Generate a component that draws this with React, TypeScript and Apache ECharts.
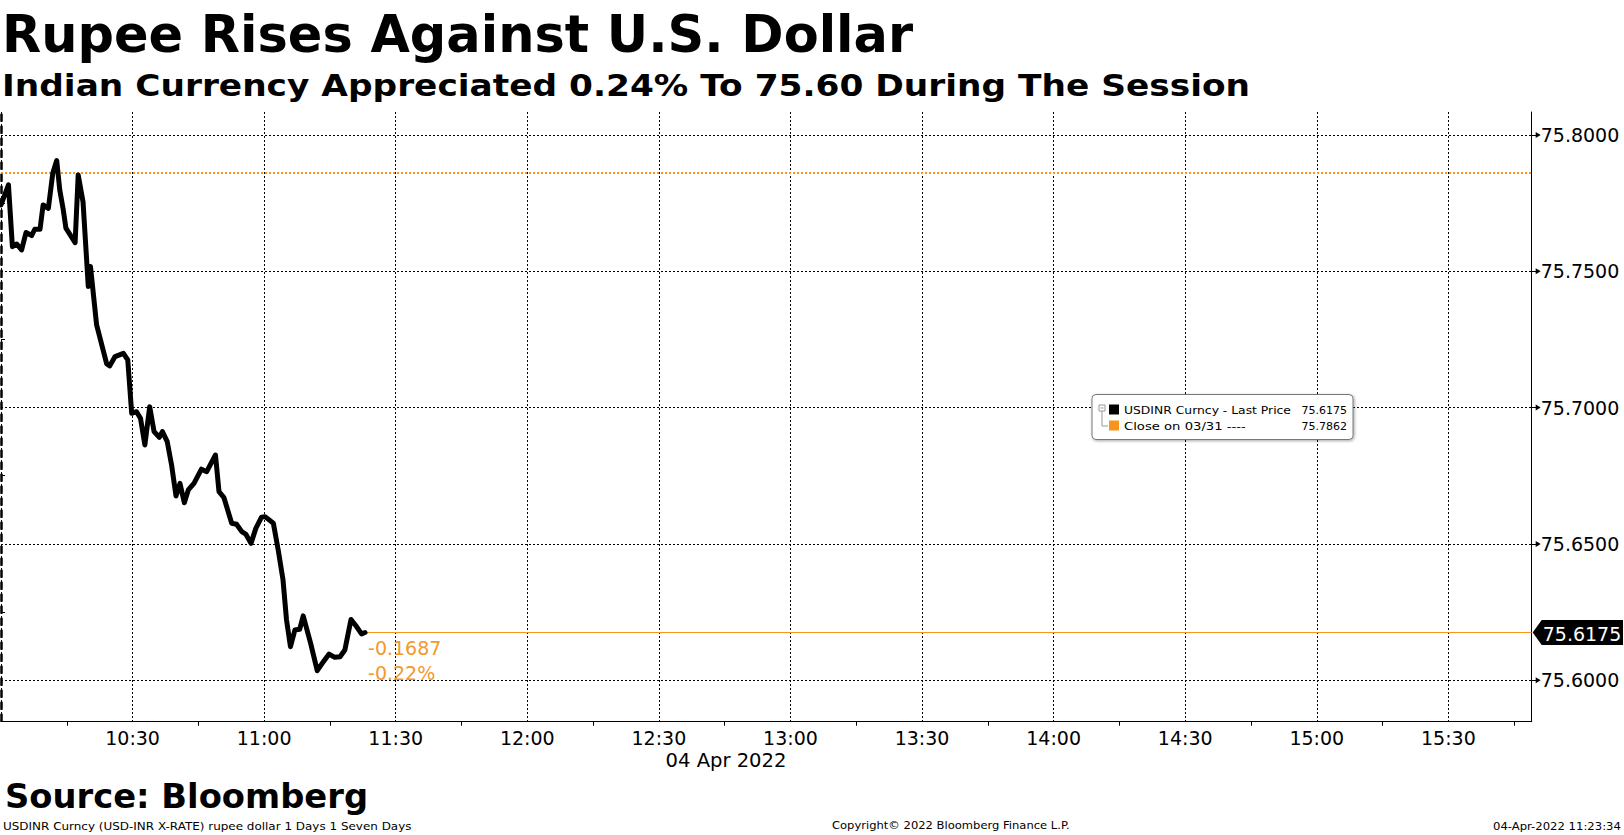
import React, { useEffect, useRef } from "react";
import * as echarts from "echarts";

// ---- texts ----
const TITLE = "Rupee Rises Against U.S. Dollar";
const SUBTITLE = "Indian Currency Appreciated 0.24% To 75.60 During The Session";
const SOURCE = "Source: Bloomberg";
const FOOT_LEFT = "USDINR Curncy (USD-INR X-RATE) rupee dollar 1 Days 1 Seven Days";
const FOOT_MID = "Copyright\u00a9 2022 Bloomberg Finance L.P.";
const FOOT_RIGHT = "04-Apr-2022 11:23:34";
const DATE_LABEL = "04 Apr 2022";
const LEGEND_LAST = "USDINR Curncy - Last Price";
const LEGEND_CLOSE = "Close on 03/31 ----";

// ---- axes ----
const SESSION_START = 600; // 10:00, minutes after midnight
const X_MAX = 349; // minutes after 10:00 at the right edge of the plot
const Y_MIN = 75.5848;
const Y_MAX = 75.8084;
const Y_TICKS = [75.6, 75.65, 75.7, 75.75, 75.8];
const Y_MINOR_TICKS = [75.625, 75.675, 75.725, 75.775];

// ---- data: minutes after 10:00 and USDINR price ----
const MINUTES = [
  0, 1.7, 2.6, 3.6, 4.7, 5.7, 7.0, 7.7, 8.9, 9.6,
  10.8, 11.8, 12.7, 13.4, 14.2, 14.8, 16.9, 17.6, 18.7, 19.9,
  20.4, 21.8, 24.1, 24.8, 26.0, 27.9, 28.9, 29.8, 30.9, 31.8,
  32.8, 33.9, 34.9, 36.1, 36.8, 37.9, 38.9, 39.9, 40.8, 41.8,
  42.7, 44.0, 45.7, 46.9, 48.9, 49.7, 50.8, 52.6, 53.7, 54.9,
  55.8, 57.0, 58.1, 59.4, 60.2, 62.1, 63.2, 64.3, 65.1, 66.0,
  67.0, 68.1, 68.9, 70.6, 72.1, 73.5, 74.8, 76.1, 77.3, 78.4,
  79.8, 81.1, 82.2, 83.0,
];
const PRICES = [
  75.7743, 75.7817, 75.759, 75.76, 75.7578, 75.7642, 75.7631, 75.7654, 75.7654, 75.7743,
  75.7731, 75.7859, 75.7906, 75.7798, 75.7725, 75.7658, 75.7605, 75.7853, 75.7755, 75.7444,
  75.7517, 75.7303, 75.716, 75.7153, 75.7187, 75.7199, 75.7175, 75.6979, 75.6985, 75.6961,
  75.6863, 75.7003, 75.6912, 75.6891, 75.6912, 75.6875, 75.6789, 75.6676, 75.6722, 75.6651,
  75.6698, 75.6722, 75.6774, 75.6765, 75.6826, 75.6692, 75.6671, 75.6576, 75.6572, 75.6545,
  75.6536, 75.6502, 75.6557, 75.6598, 75.66, 75.6576, 75.6478, 75.6368, 75.6221, 75.6123,
  75.6184, 75.6187, 75.6236, 75.6135, 75.6035, 75.6068, 75.6096, 75.6084, 75.6086, 75.6111,
  75.6223, 75.6196, 75.617, 75.6175,
];
const PREV_CLOSE = 75.7862;

const FONT = "DejaVu Sans";
const ORANGE = "#F7941D";
const ORANGE_TEXT = "#F2992E";

function fmtTime(v: number) {
  const t = SESSION_START + v;
  const h = Math.floor(t / 60);
  const m = Math.round(t % 60);
  return `${h}:${m < 10 ? "0" : ""}${m}`;
}

export default function App() {
  const ref = useRef<HTMLDivElement>(null);
  useEffect(() => {
    document.body.style.margin = "0";
    const chart = echarts.init(ref.current!, null, { renderer: "svg" });
    const data = MINUTES.map((m, i) => [m, PRICES[i]]);
    const lastT = MINUTES[MINUTES.length - 1];
    const lastV = PRICES[PRICES.length - 1];
    const grid = { color: "#000", width: 1, type: [2, 2] };

    chart.setOption({
      animation: false,
      backgroundColor: "#fff",
      grid: { left: 1, top: 112, width: 1530.7, height: 609.7, containLabel: false, outerBoundsMode: "none" },
      xAxis: {
        type: "value",
        min: 0,
        max: X_MAX,
        interval: 30,
        axisLine: { show: true, onZero: false, lineStyle: { color: "#000", width: 1 } },
        axisTick: { show: false },
        minorTick: { show: true, splitNumber: 2, length: 4, lineStyle: { color: "#000", width: 1 } },
        axisLabel: {
          color: "#000",
          fontSize: 19,
          fontFamily: FONT,
          margin: 7,
          showMaxLabel: false,
          formatter: (v: number) => (v === 0 ? "" : fmtTime(v)),
        },
        splitLine: { show: true, lineStyle: grid },
      },
      yAxis: [
        {
          type: "value",
          position: "right",
          min: Y_MIN,
          max: Y_MAX,
          axisLine: { show: true, onZero: false, lineStyle: { color: "#000", width: 1 } },
          axisTick: { show: true, customValues: Y_TICKS, length: 5, lineStyle: { color: "#000" } },
          axisLabel: {
            customValues: Y_TICKS,
            color: "#000",
            fontSize: 19,
            fontFamily: FONT,
            margin: 9,
            formatter: (v: number) => v.toFixed(4),
          },
          splitLine: { show: true, lineStyle: grid },
        },
        {
          type: "value",
          position: "right",
          min: Y_MIN,
          max: Y_MAX,
          axisLine: { show: false },
          axisTick: { show: true, customValues: Y_MINOR_TICKS, length: 4, lineStyle: { color: "#000" } },
          axisLabel: { show: false },
          splitLine: { show: false },
        },
      ],
      series: [
        {
          type: "line",
          data,
          symbol: "none",
          showSymbol: false,
          lineStyle: { color: "#000", width: 5, join: "round", cap: "round" },
          z: 5,
          markLine: {
            silent: true,
            precision: 4,
            symbol: ["none", "none"],
            label: { show: false },
            data: [
              { yAxis: PREV_CLOSE, lineStyle: { color: ORANGE, width: 2, type: [2, 2] } },
              { xAxis: 0, lineStyle: { color: "#000", width: 2.5, type: [8, 4] } },
              [
                { coord: [lastT, lastV], lineStyle: { color: ORANGE, width: 1, type: "solid" } },
                { coord: [X_MAX, lastV] },
              ],
            ],
          },
        },
      ],
    });

    const ctx = document.createElement("canvas").getContext("2d")!;
    const fit = (text: string, font: string, target: number) => {
      ctx.font = font;
      const w = ctx.measureText(text).width;
      return w > 0 ? target / w : 1;
    };
    const txt = (id: string, text: string, x: number, y: number, size: number, bold: boolean, target: number, color = "#000", align = "left") => ({
      id,
      type: "text",
      x,
      y,
      scaleX: fit(text, `${bold ? "bold " : ""}${size}px "${FONT}"`, target),
      silent: true,
      style: { text, fill: color, font: `${bold ? "bold " : ""}${size}px "${FONT}"`, align, verticalAlign: "middle" },
    });

    const pEnd = chart.convertToPixel({ seriesIndex: 0 }, [X_MAX, lastV]) as number[];
    const pLast = chart.convertToPixel({ seriesIndex: 0 }, [lastT, lastV]) as number[];
    const diff = lastV - PREV_CLOSE;
    const pct = (diff / PREV_CLOSE) * 100;

    // arrow heads on the major y ticks
    const arrows = Y_TICKS.map((v, i) => {
      const p = chart.convertToPixel({ seriesIndex: 0 }, [X_MAX, v]) as number[];
      return {
        id: `arrow${i}`,
        type: "polygon",
        silent: true,
        shape: { points: [[p[0] + 4, p[1] - 3], [p[0] + 9, p[1]], [p[0] + 4, p[1] + 3]] },
        style: { fill: "#000" },
      };
    });

    const tagX = pEnd[0] + 1;
    const tagY = pEnd[1];
    const graphics: any[] = [
      txt("title", TITLE, 2, 34, 52, true, 911),
      txt("subtitle", SUBTITLE, 2, 86, 30, true, 1249),
      txt("source", SOURCE, 5, 796, 34, true, 363),
      txt("date", DATE_LABEL, 726, 761, 19, false, 121, "#000", "center"),
      txt("fl", FOOT_LEFT, 3, 826, 11, false, 409),
      txt("fm", FOOT_MID, 832, 826, 11, false, 238),
      txt("fr", FOOT_RIGHT, 1493, 826, 11, false, 128),
      ...arrows,
      // price tag on the right axis
      {
        id: "tagbg",
        type: "polygon",
        silent: true,
        shape: { points: [[tagX, tagY], [tagX + 9, tagY - 12.5], [1623, tagY - 12.5], [1623, tagY + 12.5], [tagX + 9, tagY + 12.5]] },
        style: { fill: "#000" },
      },
      {
        id: "tagtxt",
        type: "text",
        x: tagX + 10,
        y: tagY + 1,
        silent: true,
        style: { text: lastV.toFixed(4), fill: "#fff", font: `19px "${FONT}"`, align: "left", verticalAlign: "middle" },
      },
      // change annotation
      {
        id: "chg1",
        type: "text",
        x: pLast[0] + 3,
        y: pLast[1] + 15,
        silent: true,
        style: { text: diff.toFixed(4), fill: ORANGE_TEXT, font: `19px "${FONT}"`, align: "left", verticalAlign: "middle" },
      },
      {
        id: "chg2",
        type: "text",
        x: pLast[0] + 3,
        y: pLast[1] + 40,
        silent: true,
        style: { text: `${pct.toFixed(2)}%`, fill: ORANGE_TEXT, font: `19px "${FONT}"`, align: "left", verticalAlign: "middle" },
      },
      // legend box
      {
        id: "lg",
        type: "group",
        x: 1092,
        y: 394.5,
        children: [
          {
            type: "rect",
            shape: { x: 0, y: 0, width: 261, height: 45, r: 4 },
            style: { fill: "#fff", stroke: "#777", lineWidth: 1, shadowBlur: 3, shadowColor: "rgba(0,0,0,0.35)", shadowOffsetX: 1, shadowOffsetY: 1 },
          },
          { type: "rect", shape: { x: 7, y: 10.5, width: 6, height: 6 }, style: { fill: "#fff", stroke: "#999", lineWidth: 1 } },
          { type: "line", shape: { x1: 8.5, y1: 13.5, x2: 11.5, y2: 13.5 }, style: { stroke: "#999", lineWidth: 1 } },
          { type: "polyline", shape: { points: [[10, 16.5], [10, 31.5], [16, 31.5]] }, style: { stroke: "#999", lineWidth: 1, fill: null } },
          { type: "rect", shape: { x: 17, y: 10, width: 10, height: 10 }, style: { fill: "#000" } },
          { type: "rect", shape: { x: 17, y: 26, width: 10, height: 10 }, style: { fill: ORANGE } },
          {
            type: "text", x: 32, y: 15.5,
            scaleX: fit(LEGEND_LAST, `11px "${FONT}"`, 167),
            style: { text: LEGEND_LAST, fill: "#000", font: `11px "${FONT}"`, align: "left", verticalAlign: "middle" },
          },
          {
            type: "text", x: 32, y: 31.5,
            scaleX: fit(LEGEND_CLOSE, `11px "${FONT}"`, 122),
            style: { text: LEGEND_CLOSE, fill: "#000", font: `11px "${FONT}"`, align: "left", verticalAlign: "middle" },
          },
          {
            type: "text", x: 255, y: 15.5,
            style: { text: lastV.toFixed(4), fill: "#000", font: `11px "${FONT}"`, align: "right", verticalAlign: "middle" },
          },
          {
            type: "text", x: 255, y: 31.5,
            style: { text: PREV_CLOSE.toFixed(4), fill: "#000", font: `11px "${FONT}"`, align: "right", verticalAlign: "middle" },
          },
        ],
      },
    ];
    chart.setOption({ graphic: graphics });

    return () => chart.dispose();
  }, []);
  return <div ref={ref} style={{ position: "absolute", left: 0, top: 0, width: 1624, height: 835 }} />;
}
